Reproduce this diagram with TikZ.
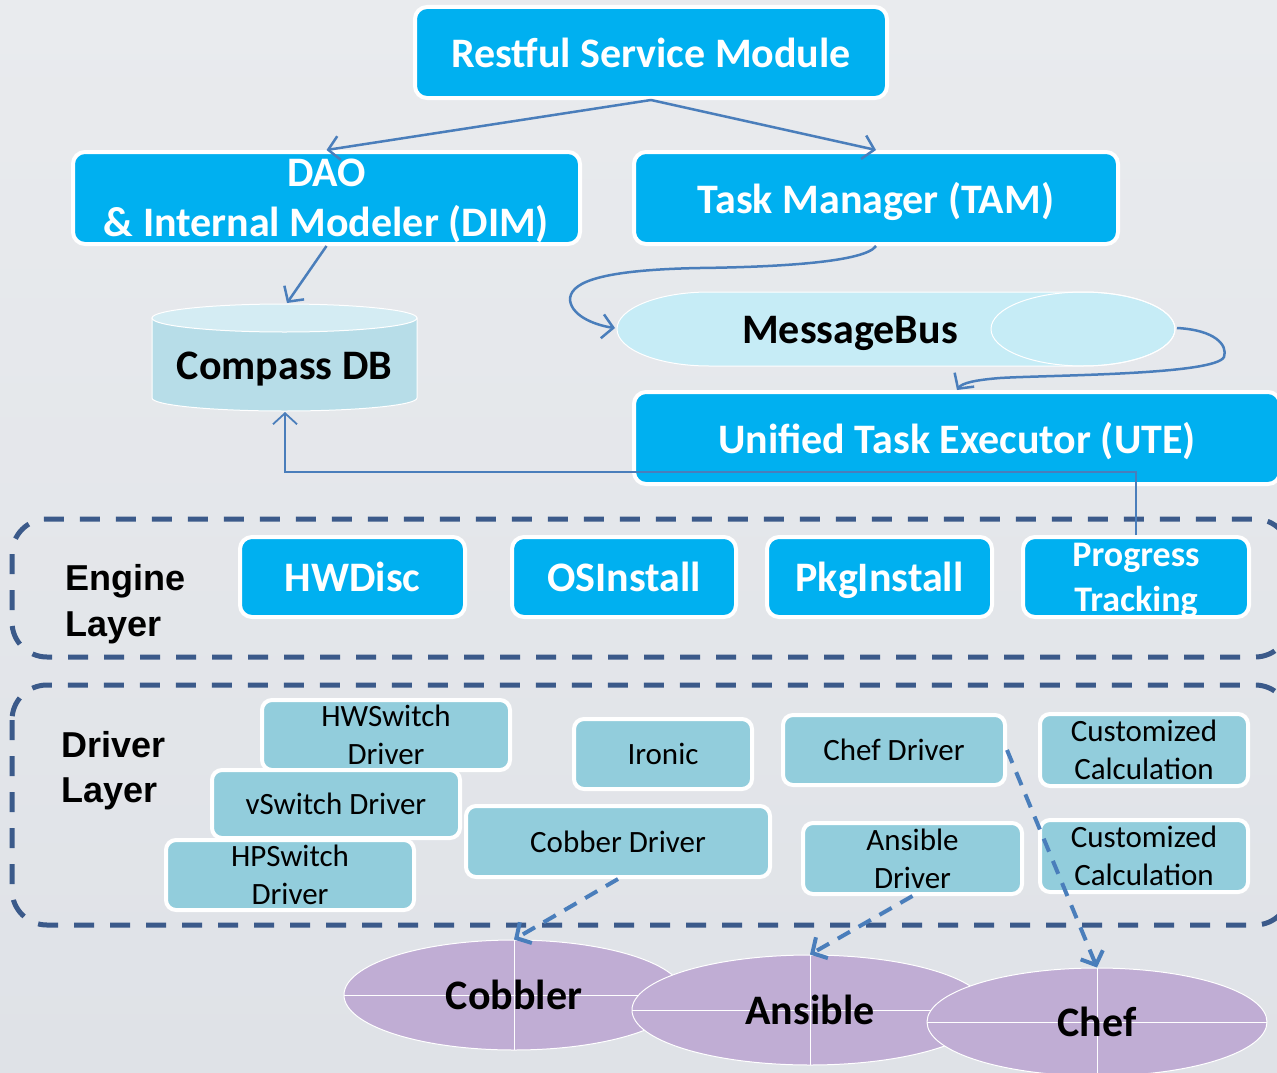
\documentclass[tikz,border=0pt]{standalone}
\usepackage{fontspec}
\setmainfont{Carlito}
\newfontfamily\labelfont{Liberation Sans}
\usetikzlibrary{
  arrows.meta,
  shapes.geometric
}
\definecolor{bgtop}{RGB}{233,235,238}
\definecolor{bgbot}{RGB}{223,226,231}
\definecolor{cyanbox}{RGB}{0,176,240}
\definecolor{tealbox}{RGB}{146,205,220}
\definecolor{dbbody}{RGB}{183,221,232}
\definecolor{dbtop}{RGB}{212,236,243}
\definecolor{busfill}{RGB}{198,236,246}
\definecolor{lilac}{RGB}{192,173,212}
\definecolor{arrowblue}{RGB}{74,126,187}
\definecolor{layerblue}{RGB}{59,90,138}

\begin{document}
\begin{tikzpicture}[x=1pt, y=1pt,
  bluebox/.style={draw=white, line width=4pt, fill=cyanbox, rounded corners=12pt,
    text=white, font=\fontsize{42}{50}\selectfont\bfseries, align=center, inner sep=0pt, text depth=0pt},
  drvbox/.style={draw=white, line width=4pt, fill=tealbox, rounded corners=10pt,
    font=\fontsize{31}{38}\selectfont, align=center, inner sep=0pt, text depth=0pt},
  layer/.style={draw=layerblue, line width=5pt, dash pattern=on 20pt off 16pt, rounded corners=35pt},
  tool/.style={ellipse, draw=white, line width=1pt, fill=lilac, inner sep=0pt,
    font=\fontsize{42}{50}\selectfont\bfseries,
    path picture={\draw[white, line width=1pt]
      (path picture bounding box.west) -- (path picture bounding box.east)
      (path picture bounding box.north) -- (path picture bounding box.south);}},
  flow/.style={draw=arrowblue, line width=2.5pt, -{Straight Barb[length=11pt, width=24pt]}},
  dflow/.style={flow, line width=4pt, dash pattern=on 14pt off 10pt}
]
  \useasboundingbox (0,0) rectangle (1277,-1073);
  \clip (0,0) rectangle (1277,-1073);
  \shade[top color=bgtop, bottom color=bgbot] (0,0) rectangle (1277,-1073);

  % top row
  \node[bluebox, minimum width=472pt, minimum height=91pt] (rest) at (651,-52.5) {Restful Service Module};
  \node[bluebox, minimum width=507pt, minimum height=92pt] (dao) at (326.5,-198) {DAO\\\& Internal Modeler (DIM)};
  \node[bluebox, minimum width=484pt, minimum height=92pt] (tam) at (876,-198) {Task Manager (TAM)};

  % database
  \fill[dbbody, draw=white, line width=1pt] (152,-318) -- (152,-398)
    arc[start angle=180, end angle=360, x radius=132.5, y radius=13] -- (417,-318) -- cycle;
  \filldraw[fill=dbtop, draw=white, line width=1pt] (284.5,-318) ellipse[x radius=132.5, y radius=14];
  \node[font=\fontsize{42}{50}\selectfont\bfseries] (db) at (284.5,-369) {Compass DB};
  \coordinate (dbN) at (287,-303);
  \coordinate (dbS) at (285,-412);

  % message bus
  \fill[busfill, draw=white, line width=1pt] (1083,-292) -- (709,-292)
    arc[start angle=90, end angle=270, x radius=92, y radius=37] -- (1083,-366)
    arc[start angle=-90, end angle=90, x radius=92, y radius=37] -- cycle;
  \draw[white, line width=1pt] (1083,-329) ellipse[x radius=92, y radius=37];
  \node[font=\fontsize{42}{50}\selectfont\bfseries] (bus) at (850,-333) {MessageBus};
  \coordinate (busW) at (615,-328);
  \coordinate (busE) at (1177,-328);

  \node[bluebox, minimum width=646pt, minimum height=92pt] (ute) at (957,-438) {Unified Task Executor (UTE)};

  % layers
  \draw[layer] (12,-519) rectangle (1290,-657);
  \draw[layer] (12,-685) rectangle (1290,-925);
  \node[anchor=west, align=left, font=\labelfont\fontsize{36}{46}\selectfont\bfseries] (engine) at (62,-604) {Engine\\Layer};
  \node[anchor=west, align=left, font=\labelfont\fontsize{36}{45}\selectfont\bfseries] (driver) at (58,-771) {Driver\\Layer};

  \node[bluebox, minimum width=225pt, minimum height=80pt] (hwdisc) at (352.5,-577) {HWDisc};
  \node[bluebox, minimum width=224pt, minimum height=80pt] (osinst) at (624,-577) {OSInstall};
  \node[bluebox, minimum width=225pt, minimum height=80pt] (pkginst) at (879.5,-577) {PkgInstall};
  \node[bluebox, minimum width=226pt, minimum height=80pt, font=\fontsize{36}{45}\selectfont\bfseries] (prog) at (1136,-577) {Progress\\Tracking};

  % drivers
  \node[drvbox, minimum width=248pt, minimum height=70pt] (hwsw) at (386,-735) {HWSwitch\\Driver};
  \node[drvbox, minimum width=248pt, minimum height=68pt] (vsw) at (336,-804) {vSwitch Driver};
  \node[drvbox, minimum width=248pt, minimum height=70pt] (hpsw) at (290,-875) {HPSwitch\\Driver};
  \node[drvbox, minimum width=178pt, minimum height=70pt] (ironic) at (663,-754) {Ironic};
  \node[drvbox, minimum width=304pt, minimum height=71pt] (cobd) at (618,-841.5) {Cobber Driver};
  \node[drvbox, minimum width=222pt, minimum height=70pt] (chefd) at (894,-750) {Chef Driver};
  \node[drvbox, minimum width=219pt, minimum height=71pt] (ansd) at (912.5,-858.5) {Ansible\\Driver};
  \node[drvbox, minimum width=208pt, minimum height=72pt] (cust1) at (1144,-750) {Customized\\Calculation};
  \node[drvbox, minimum width=208pt, minimum height=72pt] (cust2) at (1144,-856) {Customized\\Calculation};

  % tools
  \node[tool, minimum width=340pt, minimum height=110pt] (cobbler) at (514,-995) {Cobbler};
  \node[tool, minimum width=356pt, minimum height=110pt] (ansible) at (810,-1010) {Ansible};
  \node[tool, minimum width=340pt, minimum height=108pt] (chef) at (1097,-1022) {Chef};

  % connectors
  \draw[flow] (rest.south) -- (dao.north);
  \draw[flow] (rest.south) -- (tam.north);
  \draw[flow] (dao.south) -- (dbN);
  \draw[flow] (tam.south) .. controls (865,-262) and (780,-267) .. (700,-268)
    .. controls (590,-270) and (570,-285) .. (570,-300)
    .. controls (572,-318) and (600,-326) .. (busW);
  \draw[flow] (busE) .. controls (1215,-330) and (1228,-345) .. (1224,-357)
    .. controls (1215,-375) and (1050,-375) .. (1000,-378)
    .. controls (975,-380) and (962,-383) .. (ute.north);
  \draw[flow, line width=1.8pt] (prog.north) -- ++(0,63) -| (dbS);
  \draw[dflow] (cobd.south) -- (cobbler.north);
  \draw[dflow] (ansd.south) -- (ansible.north);
  \draw[dflow] (chefd.east) -- (chef.north);
\end{tikzpicture}
\end{document}
